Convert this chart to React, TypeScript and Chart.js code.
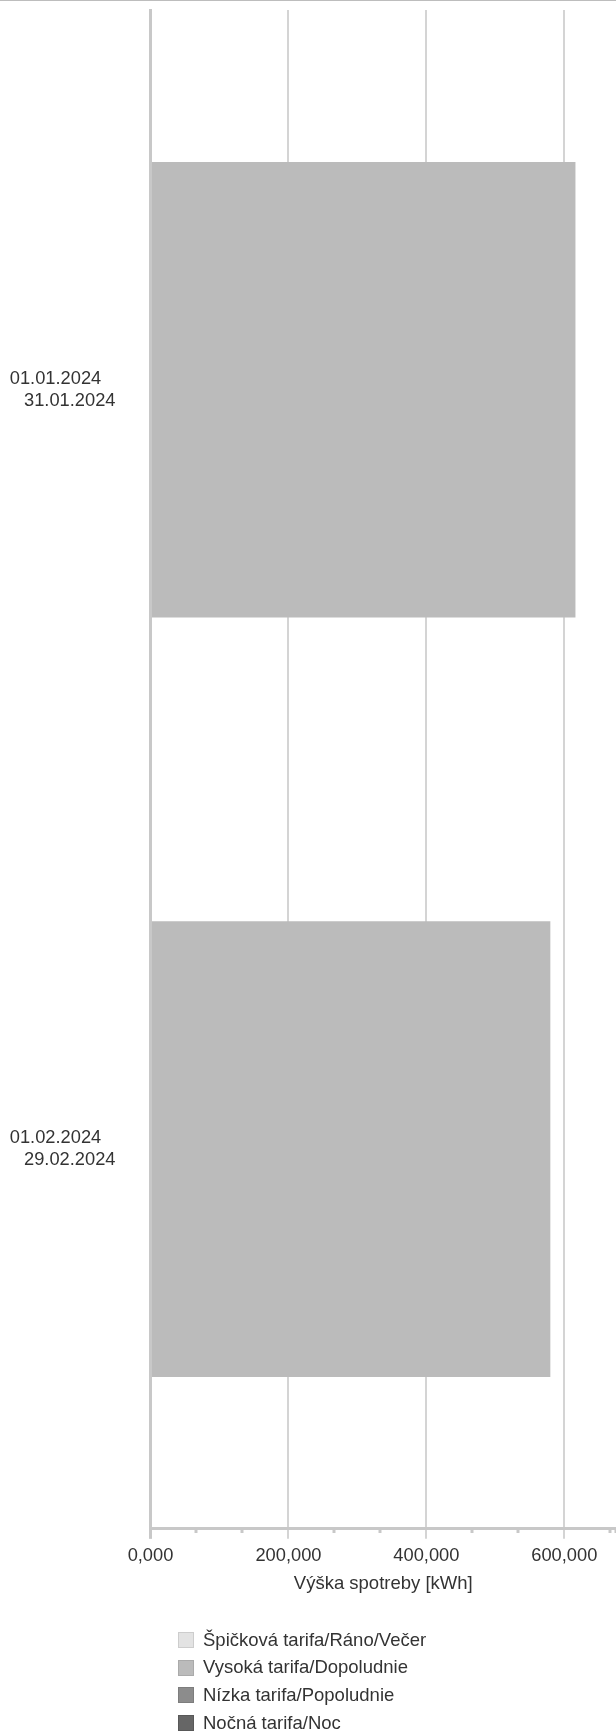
import React, { useEffect, useRef } from 'react';
import { Chart, registerables } from 'chart.js';

Chart.register(...registerables);

// ---- data ----
const periodStarts = ['01.01.2024', '01.02.2024'];
const periodEnds = ['31.01.2024', '29.02.2024'];
const seriesLabels = [
  'Špičková tarifa/Ráno/Večer',
  'Vysoká tarifa/Dopoludnie',
  'Nízka tarifa/Popoludnie',
  'Nočná tarifa/Noc',
];
const peakValues = [0, 0];
const highValues = [616.2, 579.8];
const lowValues = [0, 0];
const nightValues = [0, 0];
const axisMin = 0;
const axisMax = 675;
const majorStep = 200;
const minorPerMajor = 3;
const axisTitle = 'Výška spotreby [kWh]';

// ---- styles ----
const FONT = '"Liberation Sans", Arial, sans-serif';
const TEXT = '#333333';
const fills = ['#e3e3e3', '#bbbbbb', '#8c8c8c', '#666666'];
const borders = ['#cdcdcd', '#aaaaaa', '#7d7d7d', '#585858'];
const AXIS = '#c8c8c8';
const GRID = '#d4d4d4';

const isMajor = (v: number) => Math.abs(v / majorStep - Math.round(v / majorStep)) < 1e-6;
const fmt = (v: number) => Math.round(v).toFixed(3).replace('.', ',');

export default function App() {
  const ref = useRef<HTMLCanvasElement | null>(null);

  useEffect(() => {
    document.body.style.margin = '0';
    const canvas = ref.current;
    if (!canvas) return;
    const labels = periodStarts.map((s, i) => [s + '\u2002 ', periodEnds[i]]);
    const values = [peakValues, highValues, lowValues, nightValues];
    const chart = new Chart(canvas, {
      type: 'bar',
      data: {
        labels,
        datasets: seriesLabels.map((label, i) => ({
          label,
          data: values[i],
          backgroundColor: fills[i],
          borderWidth: 0,
          categoryPercentage: 0.6,
          barPercentage: 1,
        })),
      },
      options: {
        indexAxis: 'y',
        animation: false,
        responsive: false,
        devicePixelRatio: 1,
        layout: { padding: { left: 10, top: 10, right: 0, bottom: 134 } },
        plugins: { legend: { display: false }, tooltip: { enabled: false } },
        scales: {
          x: {
            type: 'linear',
            stacked: true,
            min: axisMin,
            max: axisMax,
            bounds: 'data',
            border: { color: AXIS, width: 3 },
            grid: {
              tickLength: 10,
              color: (c: any) => {
                const v = c.tick ? c.tick.value : 0;
                if (Math.abs(v) < 1e-9) return AXIS;
                return isMajor(v) ? GRID : 'rgba(0,0,0,0)';
              },
              lineWidth: (c: any) => {
                const v = c.tick ? c.tick.value : 0;
                return Math.abs(v) < 1e-9 ? 3 : 2;
              },
              tickColor: (c: any) => {
                const v = c.tick ? c.tick.value : 0;
                if (Math.abs(v) < 1e-9) return AXIS;
                return isMajor(v) ? GRID : AXIS;
              },
              tickWidth: (c: any) => {
                const v = c.tick ? c.tick.value : 0;
                if (Math.abs(v) < 1e-9) return 3;
                return isMajor(v) ? 2 : 3;
              },
              tickBorderDash: (c: any) => {
                const v = c.tick ? c.tick.value : 0;
                return isMajor(v) ? [] : [3, 60];
              },
            },
            ticks: {
              stepSize: majorStep / minorPerMajor,
              maxTicksLimit: 40,
              autoSkip: false,
              maxRotation: 0,
              padding: 6,
              color: TEXT,
              font: { family: FONT, size: 18.3 },
              callback: (v: any) => (isMajor(Number(v)) ? fmt(Number(v)) : ''),
            },
            title: {
              display: true,
              text: axisTitle,
              color: TEXT,
              font: { family: FONT, size: 18.5 },
              padding: { top: 0, bottom: 4 },
            },
            afterFit: (s: any) => {
              s.paddingLeft = 0;
              s.paddingRight = 0;
            },
          },
          y: {
            stacked: true,
            border: { color: AXIS, width: 3, z: 1 },
            grid: { display: false, drawTicks: false },
            ticks: {
              padding: 35,
              autoSkip: false,
              color: TEXT,
              font: { family: FONT, size: 18.3 },
            },
            afterFit: (s: any) => {
              s.width = 140.5;
              s.paddingTop = 0;
              s.paddingBottom = 0;
            },
          },
        },
      } as any,
    });
    return () => chart.destroy();
  }, []);

  return (
    <div style={{ position: 'relative', width: 616, height: 1733, overflow: 'hidden' }}>
      <canvas ref={ref} width={616} height={1733} style={{ display: 'block' }} />
      <div
        style={{ position: 'absolute', left: 0, top: 0, width: 616, height: 1, background: '#bdbdbd' }}
      />
      <div style={{ position: 'absolute', left: 178, top: 1626, fontFamily: FONT, fontSize: 18.5, color: TEXT }}>
        {seriesLabels.map((l, i) => (
          <div key={l} style={{ display: 'flex', alignItems: 'center', height: 27.8 }}>
            <span
              style={{
                display: 'inline-block',
                width: 16,
                height: 16,
                boxSizing: 'border-box',
                background: fills[i],
                border: `1px solid ${borders[i]}`,
                marginRight: 9,
              }}
            />
            <span style={{ lineHeight: 1, whiteSpace: 'nowrap' }}>{l}</span>
          </div>
        ))}
      </div>
    </div>
  );
}
